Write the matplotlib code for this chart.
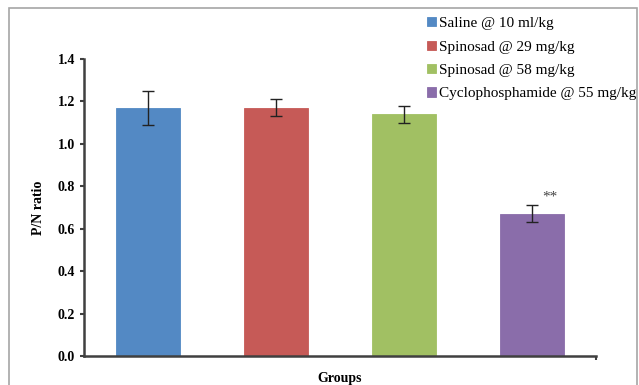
import numpy as np
import matplotlib
matplotlib.use("Agg")
import matplotlib.pyplot as plt
from matplotlib.patches import Rectangle

# P/N ratio per treatment group (mean and SEM)
groups = ["Saline @ 10 ml/kg", "Spinosad @ 29 mg/kg",
          "Spinosad @ 58 mg/kg", "Cyclophosphamide @ 55 mg/kg"]
means = [1.17, 1.17, 1.14, 0.67]
errors = [0.08, 0.04, 0.04, 0.04]
marks = ["", "", "", "**"]
colors = ["#5389C4", "#C65A57", "#A1C063", "#8A6DAA"]

plt.rcParams["font.family"] = ["Liberation Serif", "DejaVu Serif"]

fig = plt.figure(figsize=(6.39, 3.85), dpi=100)
ax = fig.add_axes([0.1315, 0.0753, 0.8015, 0.7714])

# outer chart frame
fig.patches.append(Rectangle((9 / 639, -0.01), 628 / 639, 1 - 8 / 385 + 0.01,
                             transform=fig.transFigure, fill=False,
                             edgecolor="#A6A6A6", linewidth=1.2))

x = np.arange(len(groups))
bars = ax.bar(x, means, width=0.5, color=colors, edgecolor=colors,
              linewidth=0.6, label=groups, zorder=2)
ax.errorbar(x, means, yerr=errors, fmt="none", ecolor="#222222",
            elinewidth=1, capsize=4, capthick=1, zorder=3)

for xi, m, e, s in zip(x, means, errors, marks):
    if s:
        ax.text(xi + 0.08, m + e + 0.01, s, ha="left", va="bottom",
                fontsize=11, color="#444444")

ax.set_xlim(-0.5, 3.5)
ax.set_ylim(0, 1.4)
ax.set_yticks(np.arange(0, 1.41, 0.2))
ax.set_yticklabels([f"{v:.1f}" for v in np.arange(0, 1.41, 0.2)],
                   fontweight="bold", fontsize=10)
ax.set_xticks([3.5])
ax.set_xticklabels([""])
ax.tick_params(axis="both", direction="out", length=3, width=1.5,
               color="#404040")

for side in ["top", "right"]:
    ax.spines[side].set_visible(False)
for side in ["left", "bottom"]:
    ax.spines[side].set_color("#404040")
    ax.spines[side].set_linewidth(1.8)

ax.set_ylabel("P/N ratio", fontweight="bold", fontsize=10, labelpad=9)
ax.set_xlabel("Groups", fontweight="bold", fontsize=10, labelpad=5)

fig.legend(handles=bars, labels=groups, loc="upper left",
           bbox_to_anchor=(421 / 639, 1 - 11 / 385), frameon=False,
           fontsize=11, handlelength=0.55, handleheight=0.55,
           handletextpad=0.25, labelspacing=0.68, borderaxespad=0)

fig.savefig("out.png", dpi=100)
